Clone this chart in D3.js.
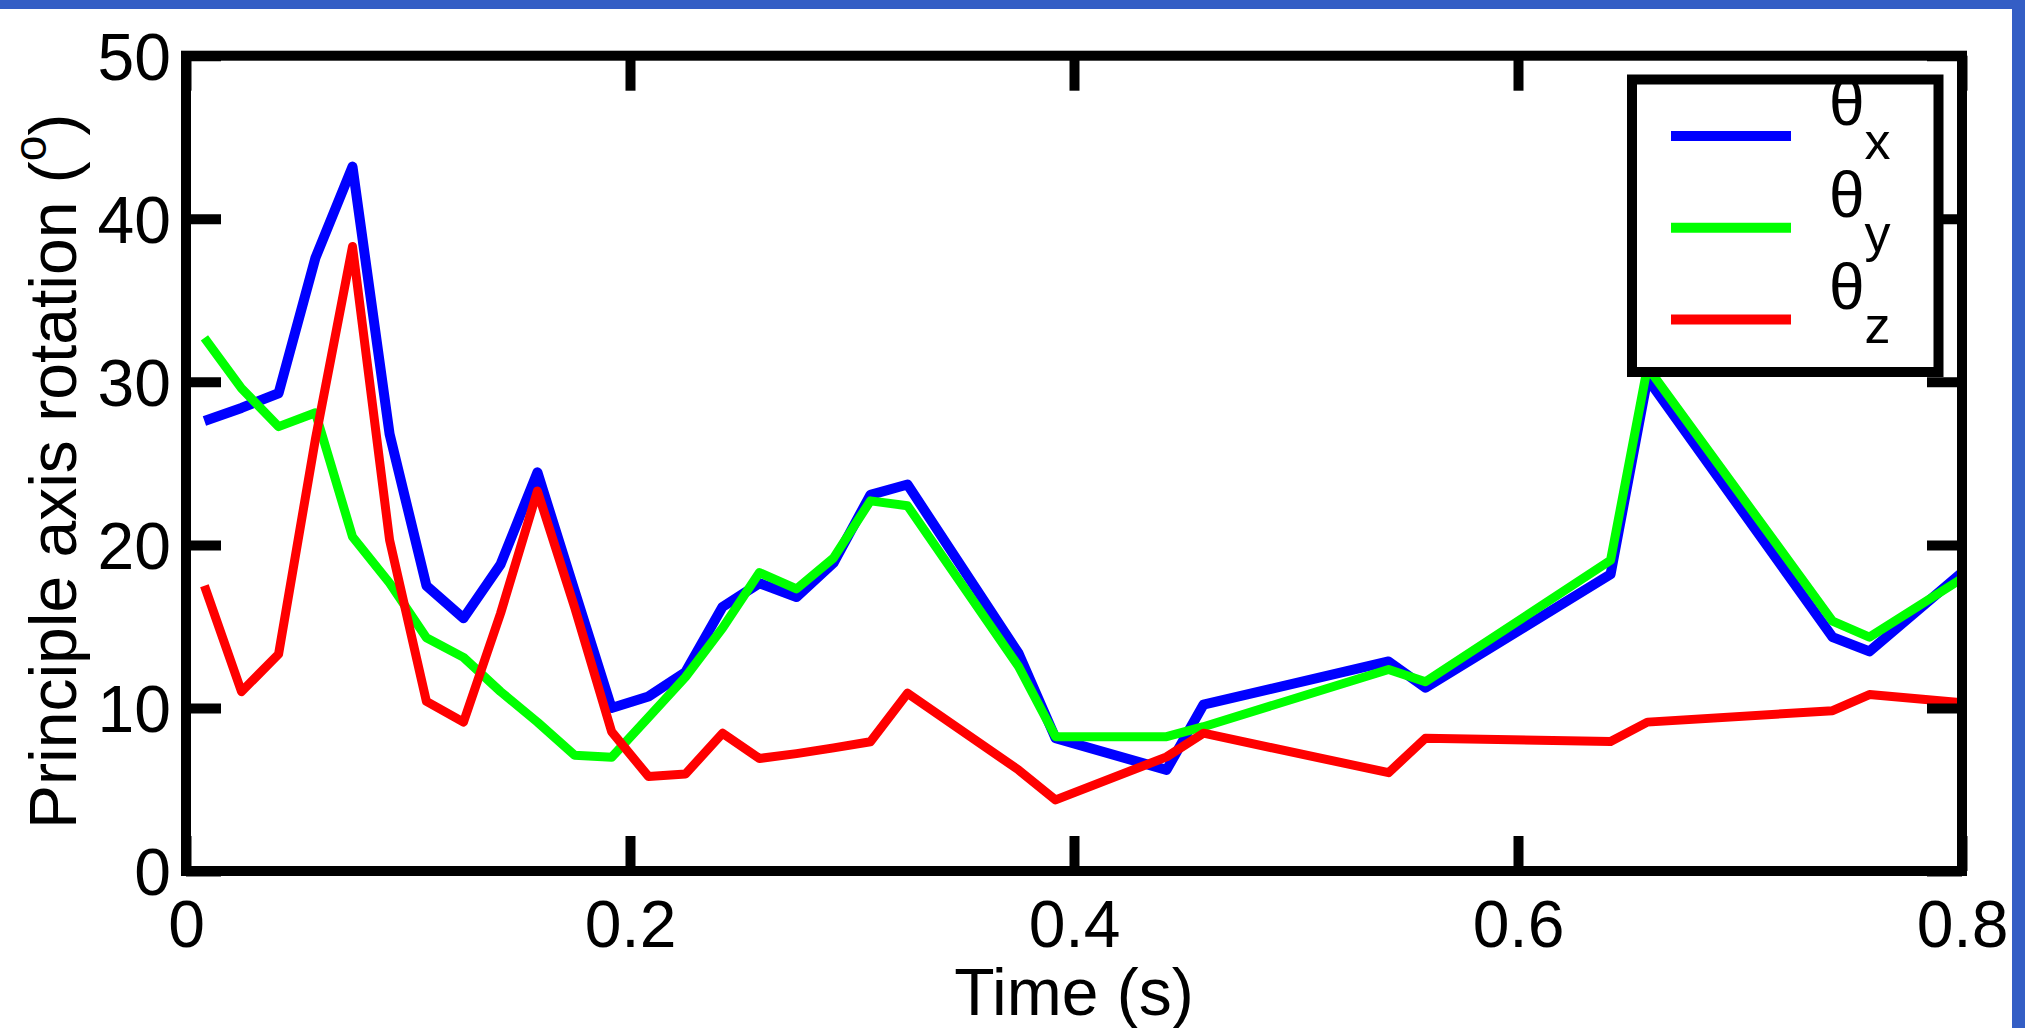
<!DOCTYPE html>
<html>
<head>
<meta charset="utf-8">
<script src="https://cdn.jsdelivr.net/npm/d3@7"></script>
<style>
  html, body { margin: 0; padding: 0; background: #ffffff; }
  svg { display: block; }
  text { font-family: "Liberation Sans", Arial, Helvetica, sans-serif; fill: #000; }
</style>
</head>
<body>
<svg id="chart" width="2025" height="1028"></svg>
<script>
// ---------------- data ----------------
const times = [0.0083, 0.025, 0.0417, 0.0583, 0.075, 0.0917, 0.1083, 0.125, 0.1417, 0.1583,
               0.175, 0.1917, 0.2083, 0.225, 0.2417, 0.2583, 0.275, 0.2917, 0.3083, 0.325,
               0.375, 0.3917, 0.4417, 0.4583, 0.5417, 0.5583, 0.6417, 0.6583, 0.7417, 0.7583, 0.8];

const thetaX = [27.6, 28.4, 29.3, 37.6, 43.2, 26.8, 17.5, 15.5, 18.8, 24.45,
                17.2, 10.0, 10.7, 12.2, 16.2, 17.65, 16.8, 18.9, 23.07, 23.7,
                13.35, 8.14, 6.2, 10.2, 12.85, 11.24, 18.2, 30.2, 14.34, 13.47, 18.3];

const thetaY = [32.7, 29.6, 27.25, 28.1, 20.5, 17.66, 14.3, 13.1, 11.0, 9.13,
                7.1, 6.97, 9.42, 11.9, 14.9, 18.3, 17.3, 19.2, 22.7, 22.4,
                12.55, 8.24, 8.24, 8.85, 12.36, 11.6, 19.06, 30.9, 15.33, 14.34, 17.94];

const thetaZ = [17.5, 11.0, 13.3, 26.5, 38.3, 20.3, 10.4, 9.13, 15.8, 23.3,
                16.2, 8.55, 5.8, 5.95, 8.45, 6.9, 7.2, 7.55, 7.93, 10.9,
                6.2, 4.36, 7.0, 8.45, 6.03, 8.14, 7.94, 9.13, 9.83, 10.82, 10.32];

const seriesSubs = ["x", "y", "z"];
const xTicks = [0, 0.2, 0.4, 0.6, 0.8];
const yTicks = [0, 10, 20, 30, 40, 50];
const xLabel = "Time (s)";
const yLabelMain = "Principle axis rotation (";
const yLabelSup = "o";
const yLabelEnd = ")";

// ---------------- styles ----------------
const colors = ["#0000ff", "#00ff00", "#ff0000"];
const widths = [10, 9, 9];
const frameColor = "#345ec5";

// ---------------- layout ----------------
const W = 2025, H = 1028;
const mLeft = 186, mRight = 1962, mTop = 55.7, mBottom = 871;
const svg = d3.select("#chart");

svg.append("rect").attr("x", 0).attr("y", 0).attr("width", W).attr("height", H).attr("fill", "#fff");
svg.append("rect").attr("x", 0).attr("y", 0).attr("width", W).attr("height", 9).attr("fill", frameColor);
svg.append("rect").attr("x", 2012).attr("y", 0).attr("width", W - 2012).attr("height", H).attr("fill", frameColor);

const x = d3.scaleLinear().domain([0, 0.8]).range([mLeft, mRight]);
const y = d3.scaleLinear().domain([0, 50]).range([mBottom, mTop]);

const series = [thetaX, thetaY, thetaZ];

// lines
const line = d3.line().x((d, i) => x(times[i])).y(d => y(d));
svg.append("g").selectAll("path")
  .data(series)
  .join("path")
  .attr("d", d => line(d))
  .attr("fill", "none")
  .attr("stroke", (d, i) => colors[i])
  .attr("stroke-width", (d, i) => widths[i])
  .attr("stroke-linejoin", "round")
  .attr("stroke-linecap", "butt");

// axes
const tickLen = 35, axisW = 10, fontSize = 66;

function styleAxis(g) {
  g.select(".domain").remove();
  g.selectAll(".tick line").attr("stroke", "#000").attr("stroke-width", axisW);
  g.selectAll(".tick text").attr("font-size", fontSize)
    .attr("font-family", "'Liberation Sans', Arial, Helvetica, sans-serif").attr("fill", "#000");
  g.attr("font-size", null).attr("font-family", null);
}

svg.append("g").attr("transform", `translate(0,${mBottom})`)
  .call(d3.axisBottom(x).tickValues(xTicks).tickSizeInner(-tickLen).tickSizeOuter(0).tickPadding(29)
        .tickFormat(d => d === 0 ? "0" : d3.format(".1f")(d)))
  .call(styleAxis);

svg.append("g").attr("transform", `translate(${mLeft},0)`)
  .call(d3.axisLeft(y).tickValues(yTicks).tickSizeInner(-tickLen).tickSizeOuter(0).tickPadding(15)
        .tickFormat(d3.format("d")))
  .call(styleAxis)
  .call(g => g.selectAll(".tick text").attr("dy", "0.36em"));

svg.append("g").attr("transform", `translate(0,${mTop})`)
  .call(d3.axisTop(x).tickValues(xTicks).tickSizeInner(-tickLen).tickSizeOuter(0).tickFormat(""))
  .call(styleAxis);

svg.append("g").attr("transform", `translate(${mRight},0)`)
  .call(d3.axisRight(y).tickValues(yTicks).tickSizeInner(-tickLen).tickSizeOuter(0).tickFormat(""))
  .call(styleAxis);

// frame
svg.append("rect")
  .attr("x", mLeft).attr("y", mTop)
  .attr("width", mRight - mLeft).attr("height", mBottom - mTop)
  .attr("fill", "none").attr("stroke", "#000").attr("stroke-width", axisW);

// axis titles
svg.append("text")
  .attr("x", (mLeft + mRight) / 2).attr("y", 1015)
  .attr("text-anchor", "middle").attr("font-size", fontSize)
  .text(xLabel);

const yt = svg.append("text")
  .attr("transform", `translate(76,${(mTop + mBottom) / 2 + 8}) rotate(-90)`)
  .attr("text-anchor", "middle").attr("font-size", fontSize);
yt.append("tspan").text(yLabelMain);
yt.append("tspan").attr("font-size", 46).attr("dy", -30).text(yLabelSup);
yt.append("tspan").attr("dy", 30).text(yLabelEnd);

// legend
const lg = svg.append("g");
lg.append("rect")
  .attr("x", 1632).attr("y", 79.5).attr("width", 306.5).attr("height", 292.5)
  .attr("fill", "#fff").attr("stroke", "#000").attr("stroke-width", axisW);

const ly = d3.scalePoint().domain(seriesSubs).range([136, 319.5]);
const items = lg.selectAll("g.item").data(seriesSubs).join("g").attr("class", "item");
items.append("line")
  .attr("x1", 1671).attr("x2", 1791)
  .attr("y1", d => ly(d)).attr("y2", d => ly(d))
  .attr("stroke", (d, i) => colors[i]).attr("stroke-width", 10);
const lt = items.append("text")
  .attr("x", 1829).attr("y", d => ly(d) - 11)
  .attr("font-size", 64);
lt.append("tspan").text("\u03b8");
lt.append("tspan").attr("font-size", 52).attr("dy", 34).text(d => d);
</script>
</body>
</html>
